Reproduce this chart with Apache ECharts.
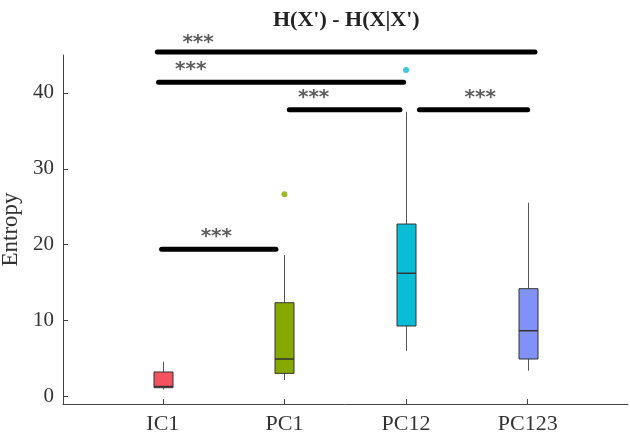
<!DOCTYPE html>
<html>
<head>
<meta charset="utf-8">
<script src="https://cdn.jsdelivr.net/npm/echarts@6/dist/echarts.min.js"></script>
<style>html,body{margin:0;padding:0;background:#fff}#c{width:630px;height:437px}</style>
</head>
<body>
<div id="c"></div>
<script>
// ---- data ----
var categories = ['IC1', 'PC1', 'PC12', 'PC123'];
var boxMin    = [0.9, 2.16, 6.02, 3.39];
var boxQ1     = [1.15, 3.04, 9.28, 4.93];
var boxMedian = [1.3, 4.93, 16.23, 8.66];
var boxQ3     = [3.22, 12.35, 22.72, 14.2];
var boxMax    = [4.57, 18.64, 37.52, 25.53];
var boxColors = ['#f5525f', '#86a800', '#0bbcd6', '#8091f8'];
var outlierCat = [1, 2];
var outlierVal = [26.64, 43.02];
var yTicks = [0, 10, 20, 30, 40];
// significance bars (x in category-index units, y in data units)
var sigStart = [-0.045, -0.035, 1.04, 2.11, -0.01];
var sigEnd   = [3.06, 1.98, 1.95, 3.0, 0.93];
var sigLevel = [45.4, 41.4, 37.8, 37.8, 19.4];
var starX    = [0.29, 0.23, 1.24, 2.61, 0.44];
var starY    = [46.6, 43.0, 39.3, 39.3, 21.0];
var starText = '***';

var serif = '"Liberation Serif", "Times New Roman", serif';
var textColor = '#333';
var axisColor = '#444';

var boxData = categories.map(function (c, i) {
  return [i, boxMin[i], boxQ1[i], boxMedian[i], boxQ3[i], boxMax[i]];
});

var series = [];
series.push({
  type: 'custom',
  xAxisIndex: 2, yAxisIndex: 1,
  clip: false,
  data: boxData,
  renderItem: function (params, api) {
    var x = api.value(0);
    var lo = api.coord([x, api.value(1)]);
    var q1 = api.coord([x, api.value(2)]);
    var md = api.coord([x, api.value(3)]);
    var q3 = api.coord([x, api.value(4)]);
    var hi = api.coord([x, api.value(5)]);
    var w = 19;
    var cx = Math.round(lo[0]) + 0.5;
    return {
      type: 'group',
      children: [
        {type: 'line', shape: {x1: cx, y1: lo[1], x2: cx, y2: q1[1]}, style: {stroke: '#555', lineWidth: 1}},
        {type: 'line', shape: {x1: cx, y1: q3[1], x2: cx, y2: hi[1]}, style: {stroke: '#555', lineWidth: 1}},
        {type: 'rect', shape: {x: cx - w / 2, y: q3[1], width: w, height: q1[1] - q3[1]},
          style: {fill: boxColors[params.dataIndex], stroke: '#333', lineWidth: 1}},
        {type: 'line', shape: {x1: cx - w / 2, y1: md[1], x2: cx + w / 2, y2: md[1]}, style: {stroke: '#333', lineWidth: 1.5}}
      ]
    };
  },
  z: 3
});

series.push({
  type: 'scatter',
  xAxisIndex: 2, yAxisIndex: 1,
  clip: false,
  symbolSize: 6,
  data: outlierCat.map(function (c, i) {
    return {value: [c, outlierVal[i]], itemStyle: {color: boxColors[c]}};
  }),
  z: 4
});

sigLevel.forEach(function (lv, i) {
  series.push({
    type: 'line',
    xAxisIndex: 2, yAxisIndex: 1,
    clip: false,
    symbol: 'none',
    silent: true,
    lineStyle: {color: '#000', width: 5, cap: 'round'},
    data: [[sigStart[i], lv], [sigEnd[i], lv]],
    z: 5
  });
});

series.push({
  type: 'scatter',
  xAxisIndex: 2, yAxisIndex: 1,
  clip: false,
  symbolSize: 1,
  itemStyle: {color: 'rgba(0,0,0,0)'},
  label: {
    show: true, position: 'inside', formatter: starText,
    color: '#333', fontSize: 20, fontWeight: 'bold', fontFamily: '"DejaVu Sans", sans-serif'
  },
  data: starX.map(function (x, i) { return [x, starY[i]]; }),
  z: 6
});

var chart = echarts.init(document.getElementById('c'), null, {renderer: 'canvas'});
chart.setOption({
  animation: false,
  backgroundColor: '#fff',
  title: {
    text: "H(X') - H(X|X')",
    left: 268, top: 4,
    textStyle: {fontFamily: serif, fontWeight: 'bold', fontSize: 22, color: '#222'}
  },
  grid: [
    {left: 63, right: 2, top: 55, bottom: 33, outerBoundsMode: 'none', containLabel: false},
    {left: 102, right: 41.5, top: 55, bottom: 33, outerBoundsMode: 'none', containLabel: false}
  ],
  xAxis: [
    {type: 'value', gridIndex: 0, min: 0, max: 1,
      axisLine: {show: true, onZero: false, lineStyle: {color: axisColor, width: 1}},
      axisTick: {show: false}, axisLabel: {show: false}, splitLine: {show: false}},
    {type: 'category', gridIndex: 1, data: categories, boundaryGap: true,
      axisLine: {show: false, onZero: false},
      axisTick: {show: true, inside: true, length: 5, alignWithLabel: true, lineStyle: {color: axisColor}},
      axisLabel: {margin: 9, fontFamily: serif, fontSize: 22, color: textColor},
      splitLine: {show: false}},
    {type: 'value', gridIndex: 1, min: -0.5, max: 3.5, show: false}
  ],
  yAxis: [
    {type: 'value', gridIndex: 0, min: -1, max: 45,
      name: 'Entropy', nameLocation: 'middle', nameRotate: 90, nameGap: 33,
      nameTextStyle: {fontFamily: serif, fontSize: 23, color: textColor},
      axisLine: {show: true, onZero: false, lineStyle: {color: axisColor, width: 1}},
      axisTick: {show: true, inside: true, length: 5, customValues: yTicks, lineStyle: {color: axisColor}},
      axisLabel: {margin: 9, customValues: yTicks, fontFamily: serif, fontSize: 21, color: textColor},
      splitLine: {show: false}},
    {type: 'value', gridIndex: 1, min: -1, max: 45, show: false}
  ],
  series: series
});
</script>
</body>
</html>
